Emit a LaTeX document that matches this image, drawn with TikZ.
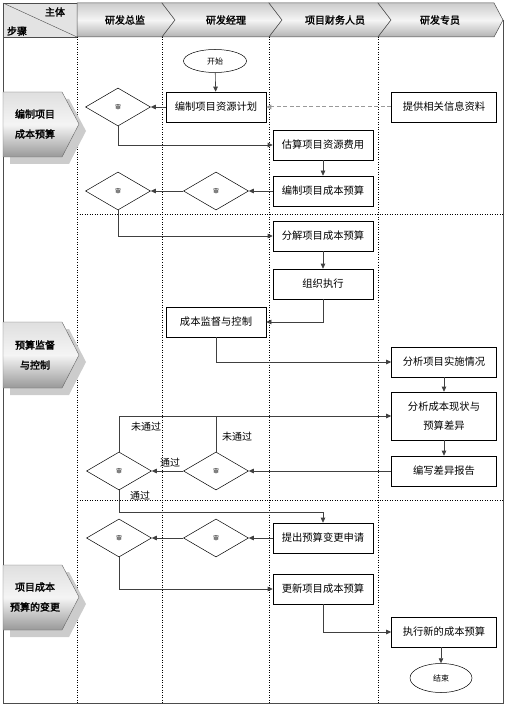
\documentclass[tikz,border=0pt]{standalone}
\usepackage{fontspec}
\setmainfont{Noto Sans CJK SC}[AutoFakeBold=2]
\usetikzlibrary{shapes.geometric,arrows.meta}

\tikzset{
  box/.style={draw, line width=0.6pt, minimum width=100pt, minimum height=30pt,
    inner sep=1pt, align=center, font=\fontsize{10.3}{19}\selectfont},
  widebox/.style={box, minimum width=105pt},
  chk/.style={draw, diamond, line width=0.5pt, minimum width=65pt, minimum height=38pt,
    inner sep=0pt, font=\fontsize{6}{6}\selectfont},
  term/.style={draw, ellipse, line width=0.5pt, minimum width=63pt, minimum height=23pt,
    inner sep=0pt, font=\fontsize{8}{8}\selectfont},
  conn/.style={draw=black!75, line width=0.6pt, -{Triangle[length=5pt,width=4.5pt]}},
  plain/.style={draw=black!75, line width=0.6pt},
  hint/.style={conn, draw=gray!80, line width=1pt, dash pattern=on 4pt off 2.5pt},
  hdr/.style={draw=black!70, line width=0.5pt, top color=gray!40, bottom color=gray!60,
    middle color=gray!8},
  hdrtext/.style={font=\bfseries\fontsize{10}{12}\selectfont, inner sep=0pt},
  stage/.style={draw=black!60, line width=0.4pt, top color=gray!25, bottom color=gray!80,
    middle color=gray!8},
  stagetext/.style={font=\bfseries\fontsize{10}{20}\selectfont, align=center, inner sep=0pt},
  lane/.style={dotted, line width=0.5pt},
  lbl/.style={font=\fontsize{10}{12}\selectfont, inner sep=0pt}
}

\begin{document}
\begin{tikzpicture}[x=1pt, y=-1pt]
  \useasboundingbox (0,0) rectangle (507,708);
  %
  \filldraw[fill=gray!22, draw=black!70] (3,3) rectangle (77,37); % corner cell
  \draw[black!70] (3,3) -- (77,37);
  \node[hdrtext] (who) at (55,12) {主体};
  \node[hdrtext] (what) at (17,31) {步骤};
  %
  \shadedraw[hdr] (77,3) -- (162,3) -- (175,20) -- (162,37) -- (77,37) -- cycle; % header
  \shadedraw[hdr] (162,3) -- (269,3) -- (282,20) -- (269,37) -- (162,37) -- (175,20) -- cycle;
  \shadedraw[hdr] (269,3) -- (378,3) -- (391,20) -- (378,37) -- (269,37) -- (282,20) -- cycle;
  \shadedraw[hdr] (378,3) -- (494,3) -- (503,20) -- (494,37) -- (378,37) -- (391,20) -- cycle;
  \node[hdrtext] (h1) at (125,20) {研发总监};
  \node[hdrtext] (h2) at (226,20) {研发经理};
  \node[hdrtext] (h3) at (335,20) {项目财务人员};
  \node[hdrtext] (h4) at (440,20) {研发专员};
  %
  \draw[lane] (77,37) -- (77,703);   % lanes
  \draw[lane] (162,37) -- (162,703);
  \draw[lane] (269,37) -- (269,703);
  \draw[lane] (378,37) -- (378,703);
  %
  \draw[lane] (77,214) -- (503,214); % stages
  \draw[lane] (77,500) -- (503,500);
  %
  \draw[black!70, line width=0.8pt] (3,37) -- (3,703) -- (503,703) -- (503,20); % frame
  %
  \fill[gray!40] (10,99) -- (69,99) -- (86,131) -- (69,164) -- (10,164) -- cycle; % first stage
  \shadedraw[stage] (3,92) -- (62,92) -- (79,124) -- (62,157) -- (3,157) -- cycle;
  \node[stagetext] (s1) at (35,124) {编制项目\\成本预算};
  %%
  \fill[gray!40] (10,329) -- (69,329) -- (86,362) -- (69,395) -- (10,395) -- cycle; % second stage
  \shadedraw[stage] (3,322) -- (62,322) -- (79,355) -- (62,388) -- (3,388) -- cycle;
  \node[stagetext] (s2) at (35,355) {预算监督\\与控制};
  %%
  \fill[gray!40] (10,572) -- (69,572) -- (86,604) -- (69,637) -- (10,637) -- cycle; % third stage
  \shadedraw[stage] (3,565) -- (62,565) -- (79,597) -- (62,630) -- (3,630) -- cycle;
  \node[stagetext] (s3) at (35,597) {项目成本\\预算的变更};
  %
  \node[term] (start) at (215,61) {开始};               % planning
  \node[box] (plan) at (216,107) {编制项目资源计划};
  \node[widebox] (info) at (444,107) {提供相关信息资料};
  \node[chk] (d1) at (118,107) {审};
  \node[box] (est) at (323,145) {估算项目资源费用};
  \node[box] (budget) at (323,191) {编制项目成本预算};
  \node[chk] (d2) at (216,191) {审};
  \node[chk] (d3) at (118,191) {审};
  %
  \node[box] (split) at (323,236) {分解项目成本预算};   % control
  \node[box] (exec) at (323,284) {组织执行};
  \node[box] (monitor) at (216,322) {成本监督与控制};
  \node[widebox] (analyze) at (444,362) {分析项目实施情况};
  \node[widebox, minimum height=48pt] (diff) at (444,416) {分析成本现状与\\预算差异};
  \node[widebox] (report) at (444,471) {编写差异报告};
  \node[chk] (d4) at (216,471) {审};
  \node[chk] (d5) at (119,471) {审};
  %
  \node[box] (req) at (323,538) {提出预算变更申请};     % change
  \node[chk] (d6) at (216,538) {审};
  \node[chk] (d7) at (119,538) {审};
  \node[box] (update) at (323,589) {更新项目成本预算};
  \node[widebox] (newexec) at (444,632) {执行新的成本预算};
  \node[term, minimum width=62pt, minimum height=29pt] (stop) at (441,678) {结束};
  %
  \draw[conn] (start) -- (plan);
  \draw[hint] (info) -- (plan);
  \draw[conn] (plan) -- (d1);
  \draw[conn] (d1.south) |- (est.west);
  \draw[conn] (est) -- (budget);
  \draw[conn] (budget) -- (d2);
  \draw[conn] (d2) -- (d3);
  \draw[conn] (d3.south) |- (split.west);
  %
  \draw[conn] (split) -- (exec);
  \draw[conn] (exec.south) |- (monitor.east);
  \draw[conn] (monitor.south) |- (analyze.west);
  \draw[conn] (analyze) -- (diff);
  \draw[conn] (diff) -- (report);
  \draw[conn] (report) -- (d4);
  \draw[conn] (d4) -- (d5);
  \draw[conn] (d4.north) |- (diff.west);
  \draw[plain] (d5.north) |- (d4.north |- diff.west);
  \draw[conn] (d5.south) -- ++(0,22) -| (req.north);
  %
  \draw[conn] (req) -- (d6);
  \draw[conn] (d6) -- (d7);
  \draw[conn] (d7.south) |- (update.west);
  \draw[conn] (update.south) |- (newexec.west);
  \draw[conn] (stop.north |- newexec.south) -- (stop.north);
  %
  \node[lbl] (no1) at (146,427) {未通过};
  \node[lbl] (no2) at (237,437) {未通过};
  \node[lbl] (ok1) at (170,463) {通过};
  \node[lbl] (ok2) at (140,496) {通过};
\end{tikzpicture}
\end{document}
